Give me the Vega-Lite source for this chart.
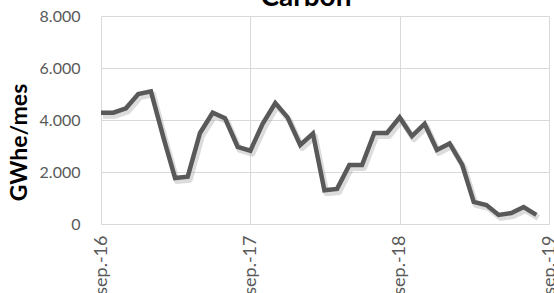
{
  "$schema": "https://vega.github.io/schema/vega-lite/v6.json",
  "width": 448,
  "height": 208,
  "autosize": {"type": "none"},
  "padding": {"left": 101, "top": 16, "right": 5, "bottom": 69},
  "background": "white",
  "title": {
    "text": "Carbon",
    "fontSize": 28,
    "font": "Lato",
    "fontWeight": "bold",
    "color": "#000000",
    "offset": -4,
    "dx": -19
  },
  "data": {
    "values": [
      {"mes": "2016-09-01", "gwh": 4280},
      {"mes": "2016-10-01", "gwh": 4280},
      {"mes": "2016-11-01", "gwh": 4450},
      {"mes": "2016-12-01", "gwh": 5000},
      {"mes": "2017-01-01", "gwh": 5100},
      {"mes": "2017-02-01", "gwh": 3300},
      {"mes": "2017-03-01", "gwh": 1770},
      {"mes": "2017-04-01", "gwh": 1820},
      {"mes": "2017-05-01", "gwh": 3500},
      {"mes": "2017-06-01", "gwh": 4280},
      {"mes": "2017-07-01", "gwh": 4070},
      {"mes": "2017-08-01", "gwh": 2970},
      {"mes": "2017-09-01", "gwh": 2820},
      {"mes": "2017-10-01", "gwh": 3850},
      {"mes": "2017-11-01", "gwh": 4650},
      {"mes": "2017-12-01", "gwh": 4100},
      {"mes": "2018-01-01", "gwh": 3040},
      {"mes": "2018-02-01", "gwh": 3480},
      {"mes": "2018-03-01", "gwh": 1300},
      {"mes": "2018-04-01", "gwh": 1350},
      {"mes": "2018-05-01", "gwh": 2270},
      {"mes": "2018-06-01", "gwh": 2270},
      {"mes": "2018-07-01", "gwh": 3500},
      {"mes": "2018-08-01", "gwh": 3500},
      {"mes": "2018-09-01", "gwh": 4100},
      {"mes": "2018-10-01", "gwh": 3380},
      {"mes": "2018-11-01", "gwh": 3850},
      {"mes": "2018-12-01", "gwh": 2850},
      {"mes": "2019-01-01", "gwh": 3100},
      {"mes": "2019-02-01", "gwh": 2270},
      {"mes": "2019-03-01", "gwh": 850},
      {"mes": "2019-04-01", "gwh": 730},
      {"mes": "2019-05-01", "gwh": 350},
      {"mes": "2019-06-01", "gwh": 420},
      {"mes": "2019-07-01", "gwh": 650},
      {"mes": "2019-08-01", "gwh": 350}
    ]
  },
  "encoding": {
    "x": {
      "field": "mes",
      "type": "temporal",
      "scale": {
        "type": "utc",
        "domain": [
          {"year": 2016, "month": 9, "date": 1, "utc": true},
          {"year": 2019, "month": 9, "date": 1, "utc": true}
        ]
      },
      "axis": {
        "title": null,
        "values": [
          {"year": 2016, "month": 9, "date": 1, "utc": true},
          {"year": 2017, "month": 9, "date": 1, "utc": true},
          {"year": 2018, "month": 9, "date": 1, "utc": true},
          {"year": 2019, "month": 9, "date": 1, "utc": true}
        ],
        "labelExpr": "'sep.-' + utcFormat(datum.value, '%y')",
        "labelAngle": 270,
        "labelAlign": "right",
        "labelBaseline": "middle",
        "labelPadding": 11,
        "labelFont": "Lato",
        "labelFontSize": 18,
        "labelColor": "#595959",
        "labelOverlap": false,
        "labelFlush": false,
        "ticks": false,
        "domainColor": "#d9d9d9",
        "gridColor": "#d9d9d9",
        "grid": true
      }
    },
    "y": {
      "field": "gwh",
      "type": "quantitative",
      "scale": {"domain": [0, 8000], "nice": false},
      "axis": {
        "title": "GWhe/mes",
        "titleFont": "Lato",
        "titleFontSize": 23,
        "titleFontWeight": "bold",
        "titleColor": "#000000",
        "titlePadding": 8,
        "titleY": 126,
        "values": [0, 2000, 4000, 6000, 8000],
        "labelExpr": "replace(format(datum.value, ','), ',', '.')",
        "labelFont": "Lato",
        "labelFontSize": 16,
        "labelColor": "#595959",
        "labelPadding": 21,
        "ticks": false,
        "domain": false,
        "gridColor": "#d9d9d9",
        "grid": true
      }
    }
  },
  "layer": [
    {
      "mark": {
        "type": "line",
        "stroke": "#9a9a9a",
        "strokeWidth": 6,
        "opacity": 0.35,
        "xOffset": 2,
        "yOffset": 3,
        "strokeJoin": "round"
      }
    },
    {
      "mark": {
        "type": "line",
        "stroke": "#595959",
        "strokeWidth": 4.5,
        "strokeJoin": "miter"
      }
    }
  ],
  "config": {
    "view": {"stroke": null}
  }
}
